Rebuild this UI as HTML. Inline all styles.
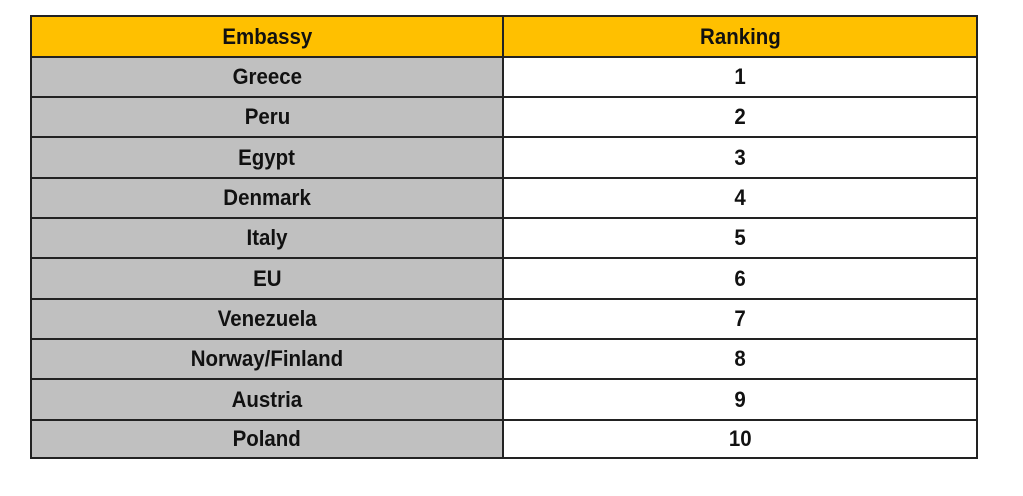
<!DOCTYPE html>
<html><head><style>
html,body{margin:0;padding:0;background:#fff;width:1023px;height:496px;overflow:hidden}
.t{position:absolute;left:30px;top:15px;width:948px;height:444px;border:2px solid #222;box-sizing:border-box}
.r{position:absolute;left:0;width:944px;border-bottom:2px solid #222;box-sizing:border-box}
.c{position:absolute;top:0;bottom:0;display:flex;align-items:center;justify-content:center;font-family:"Liberation Sans",sans-serif;font-weight:bold;font-size:22px;color:#111}
.c span{display:inline-block;transform:scaleX(0.93)}
.a{left:0;width:472px;background:#c0c0c0;border-right:2px solid #222;box-sizing:border-box}
.b{left:472px;width:472px;background:#fff}
.h .a,.h .b{background:#ffc000}
</style></head><body>
<div class="t">
<div class="r h" style="top:0;height:41px"><div class="c a"><span>Embassy</span></div><div class="c b"><span>Ranking</span></div></div>
<div class="r" style="top:41px;height:40px"><div class="c a"><span>Greece</span></div><div class="c b"><span>1</span></div></div>
<div class="r" style="top:81px;height:40px"><div class="c a"><span>Peru</span></div><div class="c b"><span>2</span></div></div>
<div class="r" style="top:121px;height:41px"><div class="c a"><span>Egypt</span></div><div class="c b"><span>3</span></div></div>
<div class="r" style="top:162px;height:40px"><div class="c a"><span>Denmark</span></div><div class="c b"><span>4</span></div></div>
<div class="r" style="top:202px;height:40px"><div class="c a"><span>Italy</span></div><div class="c b"><span>5</span></div></div>
<div class="r" style="top:242px;height:41px"><div class="c a"><span>EU</span></div><div class="c b"><span>6</span></div></div>
<div class="r" style="top:283px;height:40px"><div class="c a"><span>Venezuela</span></div><div class="c b"><span>7</span></div></div>
<div class="r" style="top:323px;height:40px"><div class="c a"><span>Norway/Finland</span></div><div class="c b"><span>8</span></div></div>
<div class="r" style="top:363px;height:41px"><div class="c a"><span>Austria</span></div><div class="c b"><span>9</span></div></div>
<div class="r" style="top:404px;height:36px;border-bottom:none"><div class="c a"><span>Poland</span></div><div class="c b"><span>10</span></div></div>
</div>
</body></html>
